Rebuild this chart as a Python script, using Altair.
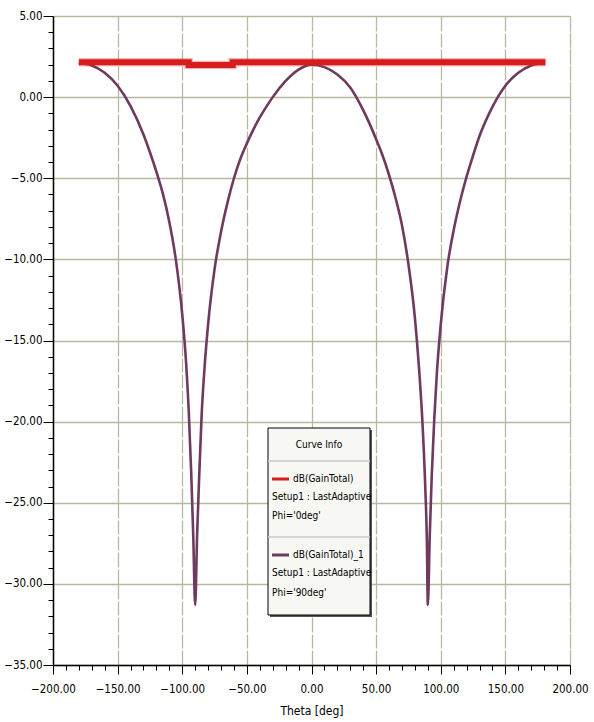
import altair as alt
import pandas as pd

# ---- data ----
theta_90 = [-180, -170, -160, -150, -140, -130, -125, -120, -115, -110, -105, -100, -97, -95, -93, -91.5, -90,
            -88.5, -87, -85, -82.5, -80, -75, -70, -65, -60, -55, -50, -45, -40, -35, -30, -20, -10, 0,
            10, 20, 30, 40, 45, 50, 55, 60, 65, 70, 75, 80, 83, 86, 88, 89.3, 90,
            91.5, 93, 95, 97, 100, 105, 110, 115, 120, 125, 130, 140, 150, 160, 170, 180]
gain_90 = [2.1, 1.95, 1.5, 0.7, -0.55, -2.3, -3.4, -4.6, -5.95, -7.7, -10.0, -13.4, -16.4, -19.3, -23.3, -27.0, -31.3,
           -27.0, -23.6, -19.6, -16.4, -14.0, -10.6, -8.3, -6.5, -5.0, -3.8, -2.85, -2.0, -1.25, -0.6, 0.0, 1.0, 1.7, 2.0,
           1.85, 1.4, 0.6, -0.8, -1.65, -2.6, -3.6, -4.8, -6.2, -7.9, -10.3, -13.6, -16.5, -20.3, -24.0, -27.5, -31.3,
           -27.0, -23.4, -19.8, -17.0, -14.0, -10.5, -8.2, -6.4, -4.9, -3.6, -2.4, -0.6, 0.7, 1.5, 1.95, 2.1]
theta_0 = [-180, -95, -95, -61, -61, 181]
gain_0 = [2.15, 2.15, 1.98, 1.98, 2.15, 2.15]

x_ticks = list(range(-200, 201, 10))
y_ticks = list(range(-35, 6, 1))

series_names = ["dB(GainTotal)", "dB(GainTotal)_1"]
series_colors = ["#d61c1c", "#6e3a5e"]

rows = []
for i, (t, g) in enumerate(zip(theta_0, gain_0)):
    rows.append({"theta": t, "gain": g, "series": series_names[0], "idx": i})
for i, (t, g) in enumerate(zip(theta_90, gain_90)):
    rows.append({"theta": t, "gain": g, "series": series_names[1], "idx": i})
df = pd.DataFrame(rows)

FONT = "DejaVu Sans Condensed, Liberation Sans, sans-serif"
W, H = 517, 649

xscale = alt.Scale(domain=[-200, 200], nice=False, zero=False)
yscale = alt.Scale(domain=[-35, 5], nice=False, zero=False)
cscale = alt.Scale(domain=series_names, range=series_colors)

GRID_MAJOR = "#b8b8a0"
GRID_MINOR = "#ffffff"

x_axis = alt.Axis(
    values=x_ticks, tickCount=len(x_ticks),
    labelExpr="datum.value % 50 === 0 ? format(datum.value, '.2f') : ''",
    labelOverlap=False, labelFlush=False, title="Theta [deg]", grid=True,
    gridColor={"condition": {"test": "datum.value % 50 === 0", "value": GRID_MAJOR}, "value": GRID_MINOR},
    gridWidth={"condition": {"test": "datum.value % 50 === 0", "value": 1.3}, "value": 2},
    tickSize={"condition": {"test": "datum.value % 50 === 0", "value": 9}, "value": 5},
    tickColor="black", domainColor="black", domainWidth=1.5,
    labelFont=FONT, labelFontSize=11.5, labelColor="black", labelPadding=9,
    titleFont=FONT, titleFontSize=12, titleFontWeight="normal", titleColor="black", titlePadding=11)
y_axis = alt.Axis(
    values=y_ticks, tickCount=len(y_ticks),
    labelExpr="datum.value % 5 === 0 ? format(datum.value, '.2f') : ''",
    labelOverlap=False, labelFlush=False, title=None, grid=True,
    gridColor={"condition": {"test": "datum.value % 5 === 0", "value": GRID_MAJOR}, "value": GRID_MINOR},
    gridWidth={"condition": {"test": "datum.value % 5 === 0", "value": 1.3}, "value": 2},
    tickSize={"condition": {"test": "datum.value % 5 === 0", "value": 10}, "value": 5},
    tickColor="black", domainColor="black", domainWidth=1.5,
    labelFont=FONT, labelFontSize=11.5, labelColor="black", labelPadding=1)

base = alt.Chart(df)
purple = base.mark_line(strokeWidth=2.6, interpolate="monotone").encode(
    x=alt.X("theta:Q", scale=xscale, axis=x_axis),
    y=alt.Y("gain:Q", scale=yscale, axis=y_axis),
    color=alt.Color("series:N", scale=cscale, legend=None),
    order="idx:Q",
).transform_filter(alt.datum.series == series_names[1])
halo = base.mark_line(strokeWidth=8.5, opacity=0.3).encode(
    x=alt.X("theta:Q", scale=xscale),
    y=alt.Y("gain:Q", scale=yscale),
    color=alt.Color("series:N", scale=cscale, legend=None),
    order="idx:Q",
).transform_filter(alt.datum.series == series_names[0])
red = base.mark_line(strokeWidth=6).encode(
    x=alt.X("theta:Q", scale=xscale),
    y=alt.Y("gain:Q", scale=yscale),
    color=alt.Color("series:N", scale=cscale, legend=None),
    order="idx:Q",
).transform_filter(alt.datum.series == series_names[0])

# ---- "Curve Info" legend box ----
one = alt.Data(values=[{"a": 1}])
LX0, LX1, LY0, LY1 = 215, 317, 412, 599
shadow = alt.Chart(one).mark_rect(color="#555").encode(
    x=alt.value(LX0 + 2), x2=alt.value(LX1 + 2), y=alt.value(LY0 + 2), y2=alt.value(LY1 + 2))
box = alt.Chart(one).mark_rect(fill="#f7f7f4", stroke="black", strokeWidth=1).encode(
    x=alt.value(LX0), x2=alt.value(LX1), y=alt.value(LY0), y2=alt.value(LY1))
sep1 = alt.Chart(one).mark_rule(color="#c8c8c8", strokeWidth=1.5).encode(
    x=alt.value(LX0), x2=alt.value(LX1), y=alt.value(445))
sep2 = alt.Chart(one).mark_rule(color="#c8c8c8", strokeWidth=1.5).encode(
    x=alt.value(LX0), x2=alt.value(LX1), y=alt.value(521))
sw1 = alt.Chart(one).mark_rule(color=series_colors[0], strokeWidth=3).encode(
    x=alt.value(219), x2=alt.value(236), y=alt.value(463))
sw2 = alt.Chart(one).mark_rule(color=series_colors[1], strokeWidth=3).encode(
    x=alt.value(219), x2=alt.value(236), y=alt.value(539))

def txt(s, x, y, align="left", size=10):
    return alt.Chart(one).mark_text(text=s, font=FONT, fontSize=size, color="black",
                                    align=align, baseline="middle").encode(
        x=alt.value(x), y=alt.value(y))

legend = [shadow, box, sep1, sep2, sw1, sw2,
          txt("Curve Info", (LX0 + LX1) / 2, 429, "center"),
          txt(series_names[0], 240, 463),
          txt("Setup1 : LastAdaptive", 219, 481),
          txt("Phi='0deg'", 219, 500),
          txt(series_names[1], 240, 539),
          txt("Setup1 : LastAdaptive", 219, 557),
          txt("Phi='90deg'", 219, 577)]

chart = alt.layer(purple, halo, red, *legend).properties(
    width=W, height=H,
    autosize=alt.AutoSizeParams(type="none"),
    padding={"left": 53, "top": 16, "right": 24, "bottom": 57},
).configure_view(
    fill="#d3d2a5", stroke="black", strokeWidth=1.5
).configure(background="white")

chart.save("out.html", embed_options={"renderer": "svg", "actions": False})
